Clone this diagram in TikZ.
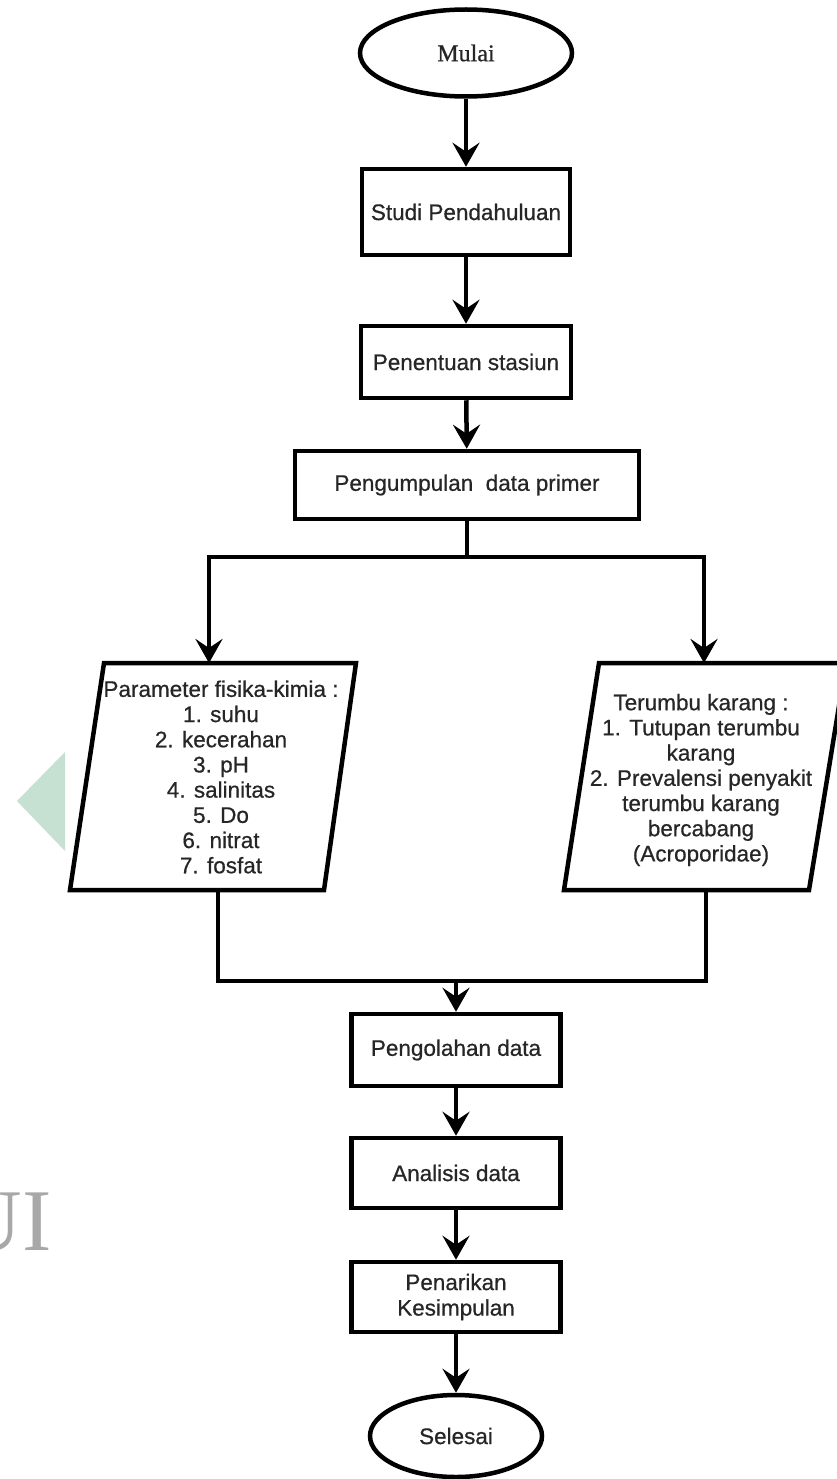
\documentclass[tikz,border=0pt]{standalone}
\usepackage{fontspec}
\setmainfont{Liberation Sans}
\newfontfamily\heavysans[FakeBold=0.6]{Liberation Sans}
\newfontfamily\timesfont[FakeBold=0.7]{Liberation Serif}
\newfontfamily\wmfont{Liberation Serif}
\usetikzlibrary{arrows.meta,shapes.geometric}
\definecolor{txt}{HTML}{262626}
\definecolor{wmgreen}{HTML}{C6E0D1}
\definecolor{wmgray}{HTML}{A8A8A8}
\tikzset{
  box/.style={draw=black, line width=4.5pt, rectangle, inner sep=0pt, fill=white,
    minimum width=211pt, minimum height=72pt, align=center, text=txt,
    font=\heavysans\fontsize{22.5}{25.5}\selectfont},
  term/.style={draw=black, line width=4.5pt, ellipse, inner sep=0pt, fill=white, text=txt},
  para/.style={draw=black, line width=4.5pt, fill=white, line join=miter},
  ptext/.style={align=center, text=txt, inner sep=0pt, font=\heavysans\fontsize{22.5}{25.2}\selectfont},
  conn/.style={draw=black, line width=4.5pt, line join=miter},
  arr/.style={conn, -{Stealth[length=24pt, width=27pt, inset=9pt]}}
}
\begin{document}
\begin{tikzpicture}[x=1pt,y=-1pt]
\clip (0,0) rectangle (837,1479);
\fill[white] (0,0) rectangle (837,1479);
% watermark remnants
\fill[wmgreen] (17,801) -- (65,752) -- (65,851) -- cycle;
\node[text=wmgray, anchor=base east, inner sep=0pt, font=\wmfont\fontsize{88}{88}\selectfont] (wm) at (52,1250) {UI};

% terminals and process boxes
\node[term, minimum width=212pt, minimum height=87pt, font=\timesfont\fontsize{24}{26}\selectfont] (mulai) at (466,53) {Mulai};
\node[box, minimum width=208pt, minimum height=86pt] (studi) at (466,212) {Studi Pendahuluan};
\node[box, minimum width=210pt] (penentuan) at (466,362) {Penentuan stasiun};
\node[box, minimum width=344pt, minimum height=68pt] (pengumpulan) at (467,485) {Pengumpulan\ \ data primer};

% parallelograms
\draw[para] (70,890) -- (104,663) -- (356,663) -- (324,890) -- cycle;
\node[ptext] (param) at (221,777) {Parameter fisika-kimia :\\1. suhu\\2. kecerahan\\3. pH\\4. salinitas\\5. Do\\6. nitrat\\7. fosfat};
\draw[para] (564,890) -- (599,663) -- (846,663) -- (809,890) -- cycle;
\node[ptext] (terumbu) at (701,780) {Terumbu karang :\\1. Tutupan terumbu\\karang\\2. Prevalensi penyakit\\terumbu karang\\bercabang\\(Acroporidae)};

\coordinate (p1top) at (209,663);
\coordinate (p2top) at (704,663);
\coordinate (p1bot) at (218,890);
\coordinate (p2bot) at (706,890);
\coordinate (splitL) at (209,557);
\coordinate (splitR) at (704,557);
\coordinate (mergeL) at (218,981);
\coordinate (mergeR) at (706,981);
\coordinate (mergeC) at (456,981);

\node[box, minimum width=209pt] (olah) at (456,1050) {Pengolahan data};
\node[box, minimum width=209pt, minimum height=70pt] (analisis) at (456,1173) {Analisis data};
\node[box, minimum width=209pt, minimum height=70pt] (tarik) at (456,1297) {Penarikan\\Kesimpulan};
\node[term, minimum width=172pt, minimum height=82pt, font=\heavysans\fontsize{22.5}{25}\selectfont] (selesai) at (456,1436) {Selesai};

% connectors
\draw[arr] (mulai) -- (studi);
\draw[arr] (studi) -- (penentuan);
\draw[arr] (penentuan) -- (pengumpulan);
\draw[arr] (pengumpulan.south) |- (splitL) -- (p1top);
\draw[arr] (pengumpulan.south) |- (splitR) -- (p2top);
\draw[conn] (p1bot) -- (mergeL) -- (mergeR) -- (p2bot);
\draw[arr] (mergeC) -- (olah);
\draw[arr] (olah) -- (analisis);
\draw[arr] (analisis) -- (tarik);
\draw[arr] (tarik) -- (selesai);
\end{tikzpicture}
\end{document}
